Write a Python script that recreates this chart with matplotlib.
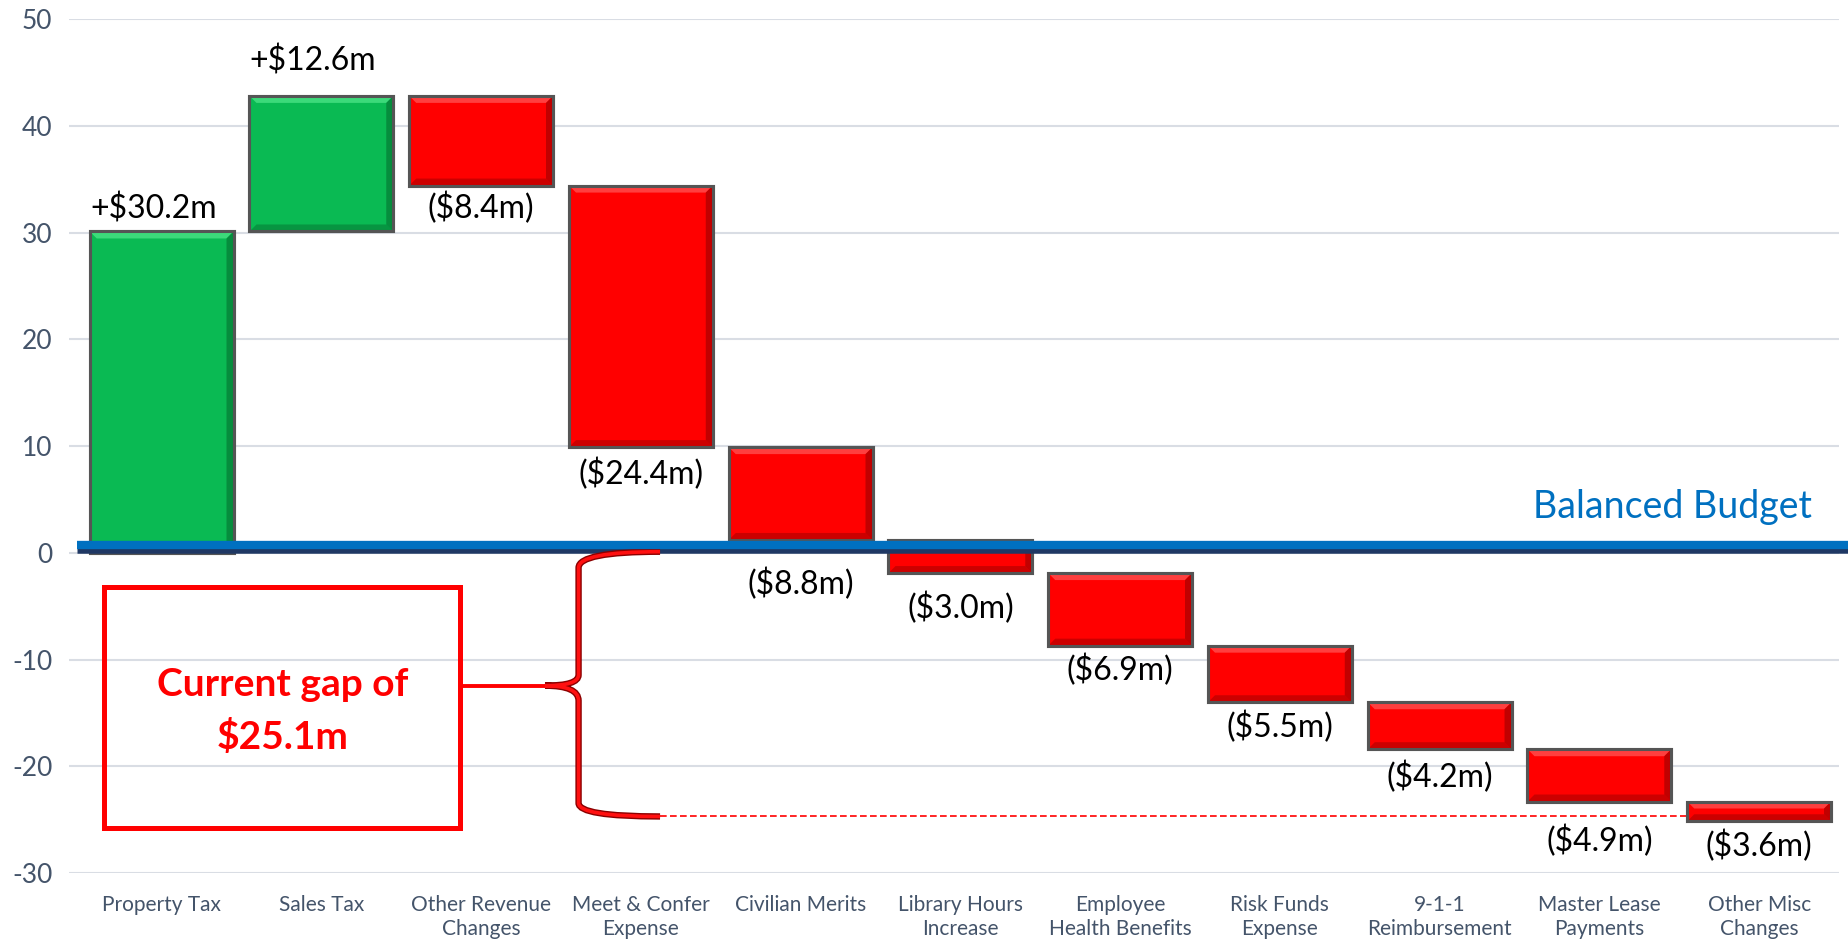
import matplotlib
matplotlib.use("Agg")
import matplotlib.pyplot as plt
from matplotlib.patches import Polygon, Rectangle
from matplotlib.path import Path
from matplotlib.patches import PathPatch

plt.rcParams['font.family'] = ['Lato', 'DejaVu Sans']
plt.rcParams['axes.unicode_minus'] = False

# categories and the steps as drawn in the chart ($m)
categories = ['Property Tax', 'Sales Tax', 'Other Revenue\nChanges', 'Meet & Confer\nExpense',
              'Civilian Merits', 'Library Hours\nIncrease', 'Employee\nHealth Benefits',
              'Risk Funds\nExpense', '9-1-1\nReimbursement', 'Master Lease\nPayments',
              'Other Misc\nChanges']
steps = [30.1, 12.7, -8.4, -24.5, -8.7, -3.1, -6.8, -5.3, -4.4, -4.9, -1.85]
value_labels = ['+$30.2m', '+$12.6m', '($8.4m)', '($24.4m)', '($8.8m)', '($3.0m)',
                '($6.9m)', '($5.5m)', '($4.2m)', '($4.9m)', '($3.6m)']
gap_total = 25.1
gap_end = -24.7      # level the dashed line / brace runs down to
budget_level = 0.55  # "Balanced Budget" bar sits just above zero

# label gap from bar end, in pixels (hand placed in the original)
label_gap = [13, 25, 6, 11, 28, 19, 8, 9, 12, 23, 9]

GREEN = '#0ABA53'
RED = '#FF0000'

# waterfall bottoms / tops
bottoms = []
tops = []
level = 0.0
for s in steps:
    bottoms.append(min(level, level + s))
    tops.append(max(level, level + s))
    level += s
heights = [t - b for t, b in zip(tops, bottoms)]
colors = [GREEN if s > 0 else RED for s in steps]
x = list(range(len(categories)))

fig = plt.figure(figsize=(18.49, 9.47), dpi=100)
ax = fig.add_axes([0.0373, 0.0781, 0.9573, 0.9018])
ax.set_xlim(-0.58, 10.5)
ax.set_ylim(-30, 50)

ax.bar(x, heights, bottom=bottoms, width=0.9, color=colors, edgecolor='#555555',
       linewidth=2.2, zorder=3)

# simple bevel so the bars look like the 3D ones in the slide
px_x = 1 / 159.7
px_y = 1 / 10.675
bx, by = 7 * px_x, 7 * px_y
for xi, b, t, c in zip(x, bottoms, tops, colors):
    x0, x1 = xi - 0.45, xi + 0.45
    light = '#5FF095' if c == GREEN else '#FF6A6A'
    dark = '#04682C' if c == GREEN else '#8E0000'
    ax.add_patch(Polygon([(x0, t), (x1, t), (x1 - bx, t - by), (x0 + bx, t - by)],
                         closed=True, fc=light, ec='none', alpha=0.6, zorder=3.1))
    ax.add_patch(Polygon([(x1, t), (x1, b), (x1 - bx, b + by), (x1 - bx, t - by)],
                         closed=True, fc=dark, ec='none', alpha=0.55, zorder=3.1))
    ax.add_patch(Polygon([(x0, b), (x1, b), (x1 - bx, b + by), (x0 + bx, b + by)],
                         closed=True, fc=dark, ec='none', alpha=0.45, zorder=3.1))
    ax.add_patch(Rectangle((x0, b), 0.9, t - b, fill=False, ec='#555555', lw=2.2, zorder=3.2))

# value labels
for xi, s, b, t, lab, g in zip(x, steps, bottoms, tops, value_labels, label_gap):
    if s > 0:
        ax.annotate(lab, (xi, t), xytext=(-6, g * 0.72), textcoords='offset points',
                    ha='center', va='baseline', fontsize=23, color='black', zorder=5)
    else:
        ax.annotate(lab, (xi, b), xytext=(0, -g * 0.72), textcoords='offset points',
                    ha='center', va='top', fontsize=23, color='black', zorder=5)

# balanced budget line
ax.plot([-0.53, 10.57], [budget_level, budget_level], color='#1F3864', lw=9,
        solid_capstyle='butt', clip_on=False, zorder=4)
ax.plot([-0.53, 10.57], [budget_level + 0.15, budget_level + 0.15], color='#0070C0', lw=6,
        solid_capstyle='butt', clip_on=False, zorder=4.1)
ax.text(10.33, 4.3, 'Balanced Budget', color='#0070C0', fontsize=27, ha='right',
        va='center', zorder=5)

# brace showing the gap
bx0, bx1, tip = 2.61, 3.12, 2.40
mid = gap_end / 2 - 0.1
verts = [(bx1, 0.1), (bx0, 0.1), (bx0, -1.4),
         (bx0, mid + 1.0),
         (bx0, mid), (tip, mid),
         (bx0, mid), (bx0, mid - 1.4),
         (bx0, gap_end + 1.25),
         (bx0, gap_end), (bx1, gap_end)]
codes = [Path.MOVETO, Path.CURVE3, Path.CURVE3, Path.LINETO, Path.CURVE3, Path.CURVE3,
         Path.CURVE3, Path.CURVE3, Path.LINETO, Path.CURVE3, Path.CURVE3]
brace = Path(verts, codes)
ax.add_patch(PathPatch(brace, fc='none', ec='#8B0000', lw=4.6, zorder=4))
ax.add_patch(PathPatch(brace, fc='none', ec='#FF1010', lw=2.6, zorder=4.1))

ax.plot([bx1, 9.57], [gap_end, gap_end], color=RED, lw=1.2, ls=(0, (4, 2)), zorder=2)

# call-out box
ax.add_patch(Rectangle((-0.36, -25.8), 2.228, 22.6, fill=False, ec=RED, lw=3.6, zorder=4))
ax.plot([1.868, tip], [mid, mid], color=RED, lw=2.8, zorder=4)
ax.text(0.76, -12.3, 'Current gap of', color=RED, fontsize=28, fontweight='bold',
        ha='center', va='center', zorder=5)
ax.text(0.76, -17.3, f'${gap_total}m', color=RED, fontsize=28, fontweight='bold',
        ha='center', va='center', zorder=5)

# axes styling
ax.set_xticks(x)
ax.set_xticklabels(categories, fontsize=15, color='#44546A', linespacing=1.25)
ax.set_yticks(range(-30, 51, 10))
ax.tick_params(axis='y', labelsize=19, labelcolor='#44546A', length=0, pad=12)
ax.tick_params(axis='x', length=0, pad=16)
ax.yaxis.grid(True, color='#D9DDE4', lw=1.5)
ax.set_axisbelow(True)
for sp in ax.spines.values():
    sp.set_visible(False)

fig.savefig('out.png', dpi=100)
